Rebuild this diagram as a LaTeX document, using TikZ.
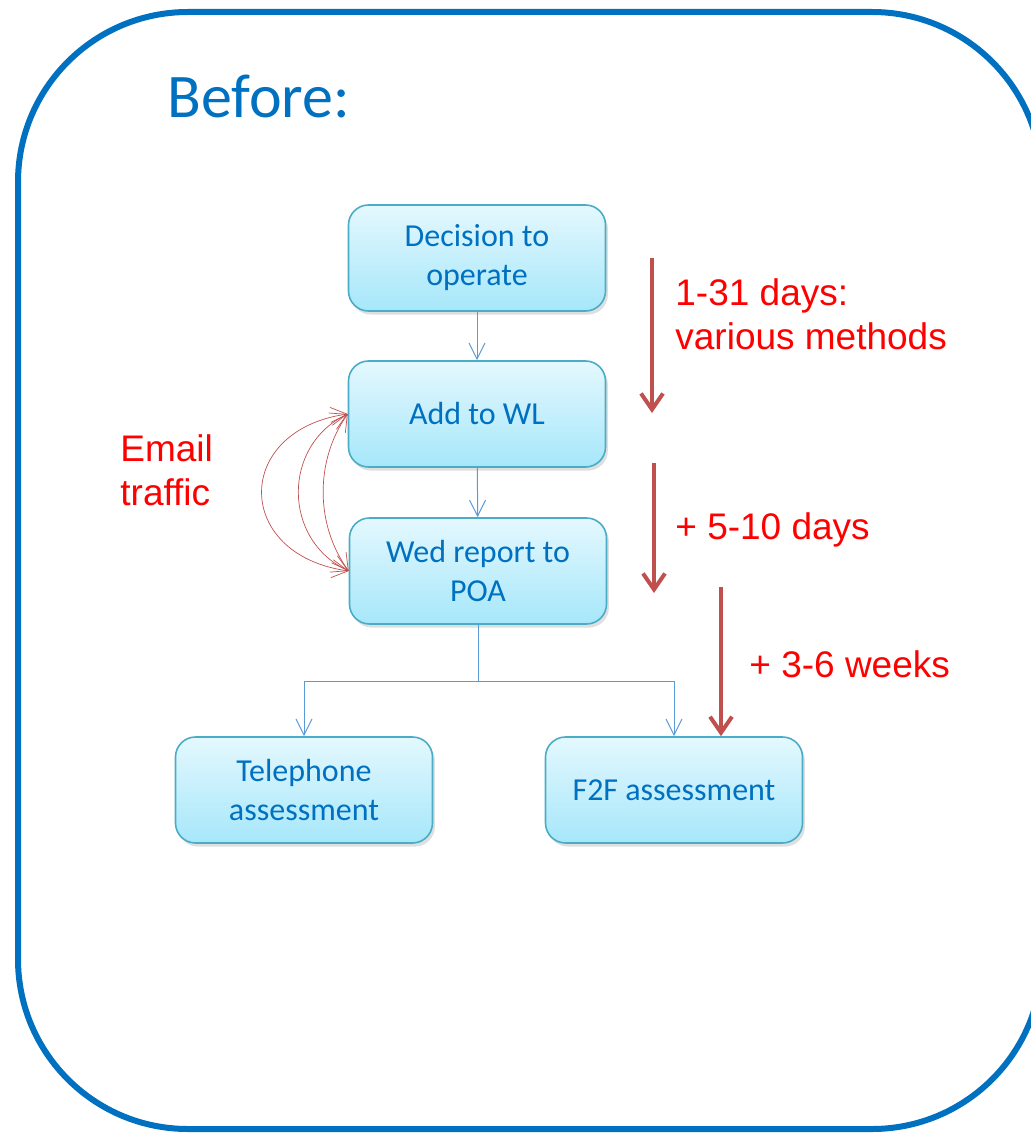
\documentclass[tikz,border=0pt]{standalone}
\usepackage{fontspec}
\setmainfont{Carlito}
\newfontfamily\arialfont[Ligatures=NoCommon]{Liberation Sans}
\usepackage{tikz}
\usetikzlibrary{arrows.meta, shadows}
\definecolor{custom_blue}{HTML}{0070C0}
\definecolor{box_border}{HTML}{4BACC6}
\definecolor{box_top}{HTML}{E4F8FE}
\definecolor{box_bottom}{HTML}{A6E7FA}
\definecolor{link_blue}{HTML}{5B9BD5}
\definecolor{custom_red}{HTML}{C0504D}
\definecolor{label_red}{HTML}{FF0000}

\tikzset{
    stepbox/.style={draw=box_border, line width=0.8pt, rounded corners=10pt,
        top color=box_top, bottom color=box_bottom,
        minimum width=128.5pt, minimum height=53pt, align=center,
        text=custom_blue, font=\fontsize{16}{19.5}\selectfont,
        drop shadow={opacity=0.25, shadow xshift=1.2pt, shadow yshift=-1.8pt}},
    link/.style={draw=link_blue, line width=0.5pt, -{Straight Barb[length=8pt, width=8pt]}},
    delay/.style={draw=custom_red, line width=2pt, -{Straight Barb[length=8pt, width=11pt]}},
    email/.style={draw=custom_red, line width=0.35pt,
        {Straight Barb[length=8pt, width=9pt]}-{Straight Barb[length=8pt, width=9pt]}},
    note/.style={text=label_red, font=\arialfont\fontsize{18.5}{22}\selectfont,
        align=left, anchor=base west, inner sep=0pt},
}

\begin{document}
\begin{tikzpicture}[x=0.5pt, y=-0.5pt]
                \useasboundingbox (0,0) rectangle (1031,1134);
                \draw[custom_blue, line width=3pt, rounded corners=85pt] (18,12) rectangle (1042,1129);
                \node[anchor=base west, inner sep=0pt, text=custom_blue, font=\fontsize{31}{36}\selectfont] (title) at (167,118) {Before:};

                % flow boxes
                \node[stepbox] (decision) at (477,258) {Decision to\\operate};
                \node[stepbox] (add) at (477,414) {Add to WL};
                \node[stepbox] (wed) at (478,571) {Wed report to\\POA};
                \node[stepbox] (tel) at (304,790) {Telephone\\assessment};
                \node[stepbox] (f2f) at (674,790) {F2F assessment};

                \coordinate (split) at (478,681);
                \draw[link] (decision) -- (add);
                \draw[link] (add) -- (wed);
                \draw[link, -] (wed.south) -- (split);
                \draw[link] (split) -| (tel.north);
                \draw[link] (split) -| (f2f.north);

                % email traffic
                \draw[email] (add.west) .. controls (233,430) and (233,555) .. (wed.west);
                \draw[email] (add.west) .. controls (282,445) and (282,540) .. (wed.west);
                \draw[email] (add.west) .. controls (315,460) and (315,525) .. (wed.west);
                \node[note] (traffic) at (120,505) {Email\\traffic};

                % waiting times
                \coordinate (d1s) at (652,258);
                \coordinate (d1e) at (652,413);
                \coordinate (d2s) at (654,463);
                \coordinate (d2e) at (654,593);
                \coordinate (d3s) at (721,587);
                \draw[delay] (d1s) -- (d1e);
                \draw[delay] (d2s) -- (d2e);
                \draw[delay] (d3s) -- (d3s |- f2f.north);
                \node[note] (days1) at (675,349) {1-31 days:\\various methods};
                \node[note] (days2) at (675,539) {+ 5-10 days};
                \node[note] (weeks) at (749,677) {+ 3-6 weeks};

            \end{tikzpicture}
\end{document}
